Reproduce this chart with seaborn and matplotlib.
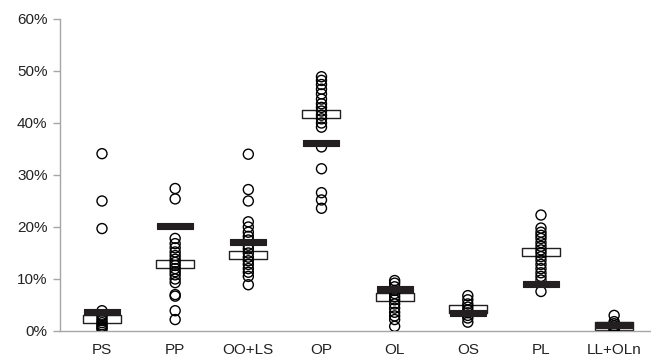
import pandas as pd
import matplotlib.pyplot as plt
import seaborn as sns
from matplotlib.path import Path
from matplotlib.ticker import PercentFormatter, MultipleLocator

# Categories (x axis)
categories = ['PS', 'PP', 'OO+LS', 'OP', 'OL', 'OS', 'PL', 'LL+OLn']

# Individual samples (open circles), in %
ps = [34.1, 25.0, 19.7, 3.9, 3.0, 2.5, 2.0, 1.6, 1.2, 0.9, 0.6, 0.3]
pp = [27.4, 25.4, 17.8, 16.8, 16.0, 15.2, 14.5, 13.8, 13.2, 12.6, 12.0,
      11.4, 10.8, 10.0, 9.3, 7.0, 6.7, 3.9, 2.2]
oo_ls = [34.0, 27.2, 25.0, 21.0, 20.0, 19.0, 18.2, 17.5, 16.5, 15.8, 15.0,
         14.2, 13.5, 12.8, 12.0, 11.3, 10.5, 8.9]
op = [48.9, 48.2, 47.4, 46.5, 45.6, 44.6, 43.7, 43.0, 42.3, 41.5, 40.8,
      40.0, 39.2, 35.4, 31.2, 26.6, 25.2, 23.6]
ol = [9.7, 9.2, 8.5, 7.8, 7.2, 6.6, 6.0, 5.2, 4.4, 3.6, 2.9, 2.2, 0.9]
os_ = [6.8, 6.0, 5.2, 4.6, 4.0, 3.5, 3.0, 2.5, 1.7]
pl = [22.3, 19.8, 19.0, 18.4, 17.8, 17.0, 16.3, 15.6, 15.0, 14.3, 13.6,
      12.8, 12.0, 11.2, 10.5, 9.8, 7.6]
ll_oln = [3.0, 1.8, 1.4, 1.0, 0.7, 0.4, 0.2]

# Summary markers (white and black bars), in %
white_vals = [2.3, 12.8, 14.7, 41.8, 6.6, 4.2, 15.2, 0.9]
black_vals = [3.6, 20.2, 17.1, 36.1, 8.0, 3.4, 9.0, 1.1]

samples = [ps, pp, oo_ls, op, ol, os_, pl, ll_oln]
pts = pd.DataFrame([(c, v) for c, vals in zip(categories, samples) for v in vals],
                   columns=['cat', 'val'])
white_df = pd.DataFrame({'cat': categories, 'val': white_vals})
black_df = pd.DataFrame({'cat': categories, 'val': black_vals})

sns.set_style('white')
plt.rcParams['font.family'] = ['Liberation Sans', 'DejaVu Sans']


def bar_marker(ratio):
    w, h = ratio / 2, 0.5
    return Path([(-w, -h), (w, -h), (w, h), (-w, h), (-w, -h)],
                [Path.MOVETO, Path.LINETO, Path.LINETO, Path.LINETO, Path.CLOSEPOLY])


fig = plt.figure(figsize=(6.51, 3.63), dpi=100)
ax = fig.add_axes([60 / 651, 32 / 363, 590 / 651, 312 / 363])

sns.scatterplot(data=white_df, x='cat', y='val', marker=bar_marker(5.2), s=28 ** 2,
                color='white', edgecolor='#231f20', linewidth=1.0, zorder=2, ax=ax)
sns.scatterplot(data=pts, x='cat', y='val', marker='o', s=52,
                facecolor='none', edgecolor='black', linewidth=1.0, zorder=3, ax=ax)
sns.scatterplot(data=black_df, x='cat', y='val', marker=bar_marker(5.4), s=26 ** 2,
                color='#231f20', edgecolor='#231f20', linewidth=0.8, zorder=4, ax=ax)

ax.set_xlim(-0.574, 7.49)
ax.set_ylim(0, 60)
ax.yaxis.set_major_locator(MultipleLocator(10))
ax.yaxis.set_major_formatter(PercentFormatter(decimals=0))
ax.set_xlabel('')
ax.set_ylabel('')

for side in ['top', 'right']:
    ax.spines[side].set_visible(False)
for side in ['left', 'bottom']:
    ax.spines[side].set_color('#a6a6a6')
    ax.spines[side].set_linewidth(1.0)

ax.tick_params(axis='y', left=True, length=5, width=1, color='#a6a6a6',
               pad=4, labelsize=11, labelcolor='#222222')
ax.tick_params(axis='x', bottom=False, length=0, pad=9,
               labelsize=11, labelcolor='#222222')

fig.savefig('out.png', dpi=100)
